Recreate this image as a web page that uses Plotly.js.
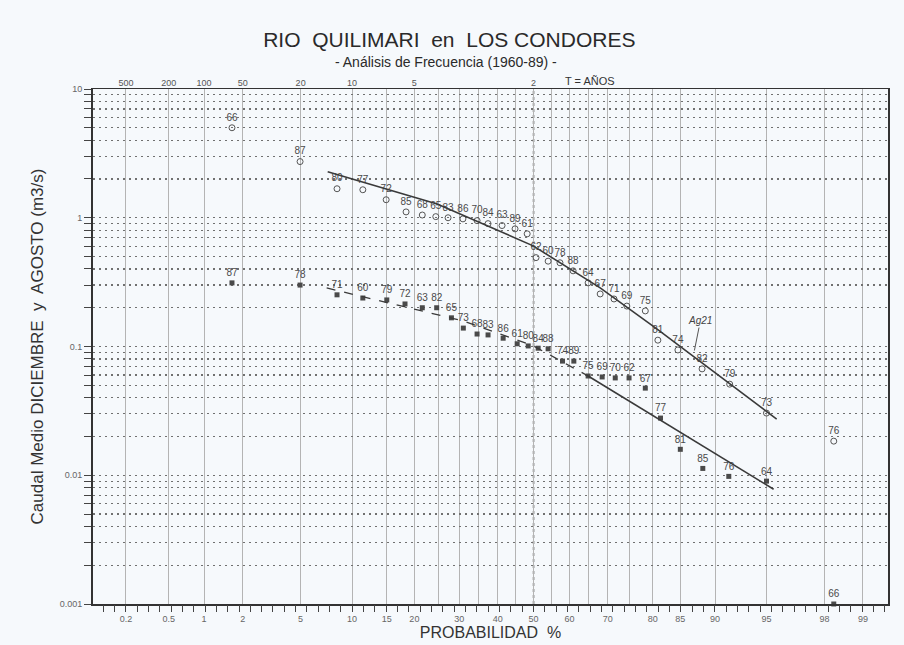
<!DOCTYPE html>
<html>
<head>
<meta charset="utf-8">
<script src="https://cdn.plot.ly/plotly-3.0.1.min.js"></script>
<style>html,body{margin:0;padding:0;background:#f6f9fc;}#chart{width:904px;height:645px;}</style>
</head>
<body>
<div id="chart"></div>
<script>
// ---- Data (probability in %, discharge in m3/s) ----
const upperYears = ['66','87','80','77','72','85','68','65','83','86','70','84','63','89','61','62','60','78','88','64','67','71','69','75','81','74','82','79','73','76'];
const upperProb  = [1.66,4.96,8.26,11.4,14.9,18.4,21.6,24.5,27.3,30.9,34.5,37.4,41.2,44.8,48.2,50.7,54.1,57.4,61.0,65.0,68.1,71.5,74.5,78.5,81.0,84.6,88.3,91.7,95.0,98.3];
const upperQ     = [5.0,2.73,1.68,1.65,1.38,1.11,1.05,1.02,1.0,0.98,0.95,0.9,0.87,0.82,0.75,0.49,0.46,0.447,0.387,0.312,0.256,0.234,0.206,0.189,0.112,0.094,0.067,0.051,0.0304,0.0184];

const lowerYears = ['87','78','71','60','79','72','63','82','65','73','68','83','86','61','80','84','88','74','89','75','69','70','62','67','77','81','85','76','64','66'];
const lowerProb  = [1.66,4.96,8.26,11.4,15.0,18.2,21.6,24.7,28.1,31.0,34.5,37.4,41.5,45.4,48.5,51.3,54.1,58.1,61.2,65.0,68.6,71.8,75.0,78.5,81.5,85.0,88.4,91.6,95.0,98.3];
const lowerQ     = [0.312,0.30,0.252,0.238,0.23,0.214,0.2,0.2,0.167,0.139,0.125,0.123,0.116,0.105,0.101,0.097,0.096,0.077,0.077,0.059,0.058,0.057,0.057,0.0475,0.0278,0.0159,0.0113,0.0098,0.009,0.001];

// fitted curves
const upperFitProb = [7.3,24.8,49.9,68.1,80.8,95.7];
const upperFitQ    = [2.28,1.28,0.605,0.285,0.137,0.0273];
const lowerFitDashProb = [7.2,30.9,50.0,65.0];
const lowerFitDashQ    = [0.285,0.158,0.101,0.059];
const lowerFitSolidProb = [65.0,95.5];
const lowerFitSolidQ    = [0.059,0.00778];

// axis labels
const probTicks   = [0.2,0.5,1,2,5,10,15,20,30,40,50,60,70,80,85,90,95,98,99];
const probLabels  = ['0.2','0.5','1','2','5','10','15','20','30','40','50','60','70','80','85','90','95','98','99'];
const gridProbs   = [0.2,0.5,1,2,5,10,15,20,25,30,35,40,45,50,55,60,65,70,75,80,85,90,95,98,99];
const returnProb  = [0.2,0.5,1,2,5,10,20,50];
const returnLabels= ['500','200','100','50','20','10','5','2'];
const decades     = [0.001,0.01,0.1,1,10];
const decadeLabels= ['0.001','0.01','0.1','1','10'];

// ---- normal probability scale ----
function probit(p){
  const a=[-3.969683028665376e+01,2.209460984245205e+02,-2.759285104469687e+02,1.383577518672690e+02,-3.066479806614716e+01,2.506628277459239e+00];
  const b=[-5.447609879822406e+01,1.615858368580409e+02,-1.556989798598866e+02,6.680131188771972e+01,-1.328068155288572e+01];
  const c=[-7.784894002430293e-03,-3.223964580411365e-01,-2.400758277161838e+00,-2.549732539343734e+00,4.374664141464968e+00,2.938163982698783e+00];
  const d=[7.784695709041462e-03,3.224671290700398e-01,2.445134137142996e+00,3.754408661907416e+00];
  const pl=0.02425, ph=1-pl; let q,r;
  if(p<pl){q=Math.sqrt(-2*Math.log(p));return (((((c[0]*q+c[1])*q+c[2])*q+c[3])*q+c[4])*q+c[5])/((((d[0]*q+d[1])*q+d[2])*q+d[3])*q+1);}
  if(p<=ph){q=p-0.5;r=q*q;return (((((a[0]*r+a[1])*r+a[2])*r+a[3])*r+a[4])*r+a[5])*q/(((((b[0]*r+b[1])*r+b[2])*r+b[3])*r+b[4])*r+1);}
  q=Math.sqrt(-2*Math.log(1-p));return -(((((c[0]*q+c[1])*q+c[2])*q+c[3])*q+c[4])*q+c[5])/((((d[0]*q+d[1])*q+d[2])*q+d[3])*q+1);
}
const Z = arr => arr.map(p => probit(p/100));

const xRange = [-3.111, 2.503];

// y tick values: 1..9 per decade
const yTickVals = [], yTickText = [];
decades.forEach((d,i) => {
  const maxk = (d === 10) ? 1 : 9;
  for (let k=1;k<=maxk;k++){ yTickVals.push(d*k); yTickText.push(k===1 ? decadeLabels[i] : ''); }
});
const xTickText = gridProbs.map(p => { const i = probTicks.indexOf(p); return i>=0 ? probLabels[i] : ''; });

const ink = '#3a3a3a';
const font = 'Liberation Sans, Arial, sans-serif';
const traces = [
  {x: Z(upperProb), y: upperQ, mode:'markers+text', name:'Diciembre', text: upperYears, textposition:'top center',
   textfont:{family:font, size:10, color:'#4a4a4a'},
   marker:{symbol:'circle-open', size:6, color:'#555', line:{width:1,color:'#555'}}, cliponaxis:false, showlegend:false,
   customdata: upperProb, hovertemplate:'%{text}: %{customdata}%, %{y} m3/s<extra></extra>'},
  {x: Z(lowerProb), y: lowerQ, mode:'markers+text', name:'Agosto', text: lowerYears, textposition:'top center',
   textfont:{family:font, size:10, color:'#4a4a4a'},
   marker:{symbol:'square', size:5, color:'#4a4a4a'}, cliponaxis:false, showlegend:false,
   customdata: lowerProb, hovertemplate:'%{text}: %{customdata}%, %{y} m3/s<extra></extra>'},
  {x: Z(lowerFitDashProb), y: lowerFitDashQ, mode:'lines', line:{color:ink,width:1.3,dash:'dash'}, hoverinfo:'skip', showlegend:false},
  {x: Z(upperFitProb), y: upperFitQ, xaxis:'x2', mode:'lines', line:{color:ink,width:1.6}, hoverinfo:'skip', showlegend:false},
  {x: Z(lowerFitSolidProb), y: lowerFitSolidQ, xaxis:'x3', mode:'lines', line:{color:ink,width:1.6}, hoverinfo:'skip', showlegend:false}
];

const layout = {
  width:904, height:645,
  paper_bgcolor:'#f6f9fc', plot_bgcolor:'#f6f9fc',
  margin:{l:93, r:16, t:89, b:41},
  showlegend:false,
  title:{text:'RIO  QUILIMARI  en  LOS CONDORES',
         x:0.497, xanchor:'center', xref:'container', y:1-40/645, yanchor:'middle', yref:'container',
         font:{family:font, size:21, color:'#2a2a2a'}},
  xaxis:{range:xRange, tickmode:'array', tickvals: Z(gridProbs), ticktext: xTickText,
         showgrid:true, gridcolor:'#b4b4b4', gridwidth:1, zeroline:false,
         ticks:'', showline:true, linecolor:'#333', linewidth:1.5, mirror:true,
         tickfont:{family:font, size:9, color:'#666'}, ticklabelstandoff:6,
         title:{text:'PROBABILIDAD  %', font:{family:font, size:16, color:'#333'}, standoff:3}},
  xaxis2:{range:xRange, overlaying:'x', side:'top', anchor:'y', tickmode:'array', tickvals: Z(returnProb), ticktext: returnLabels,
          showgrid:false, zeroline:false, ticks:'', showline:false, tickfont:{family:font, size:9, color:'#555'}},
  xaxis3:{range:xRange, overlaying:'x', side:'bottom', anchor:'y', tickmode:'linear', tick0:0, dtick:0.08,
          ticks:'outside', ticklen:7, tickcolor:'#444', tickwidth:1, showticklabels:false, showgrid:false, zeroline:false, showline:false},
  yaxis:{type:'log', range:[-3,1], tickmode:'array', tickvals:yTickVals, ticktext:yTickText,
         showgrid:true, gridcolor:'#707070', gridwidth:1.2, griddash:'2px,4px', zeroline:false,
         ticks:'outside', ticklen:7, tickcolor:'#444', showline:true, linecolor:'#333', linewidth:2, mirror:true,
         tickfont:{family:font, size:9, color:'#666'},
         title:{text:'Caudal Medio DICIEMBRE  y  AGOSTO (m3/s)', font:{family:font, size:17, color:'#333'}, standoff:12}},
  shapes:[{type:'line', xref:'x', yref:'paper', x0:0, x1:0, y0:0, y1:1, line:{color:'#555', width:1.5, dash:'dot'}, layer:'below'}],
  annotations:[
    {text:'- Análisis de Frecuencia (1960-89) -', xref:'paper', yref:'paper', x:(446-93)/795, y:1+(89-62)/515,
     xanchor:'center', yanchor:'middle', showarrow:false, font:{family:font, size:14, color:'#2a2a2a'}},
    {text:'T = AÑOS', xref:'paper', yref:'paper', x:(590-93)/795, y:1, yanchor:'bottom', xanchor:'center', showarrow:false,
     yshift:0, font:{family:font, size:11, color:'#333'}},
    {text:'<i>Ag21</i>', x: probit(0.872), y: Math.log10(0.093), xref:'x', yref:'y', showarrow:true, arrowhead:0, arrowwidth:1,
     arrowcolor:'#555', ax:6, ay:-30, font:{family:font, size:10, color:'#444'}}
  ]
};

Plotly.newPlot('chart', traces, layout, {displayModeBar:false, staticPlot:true});
</script>
</body>
</html>
